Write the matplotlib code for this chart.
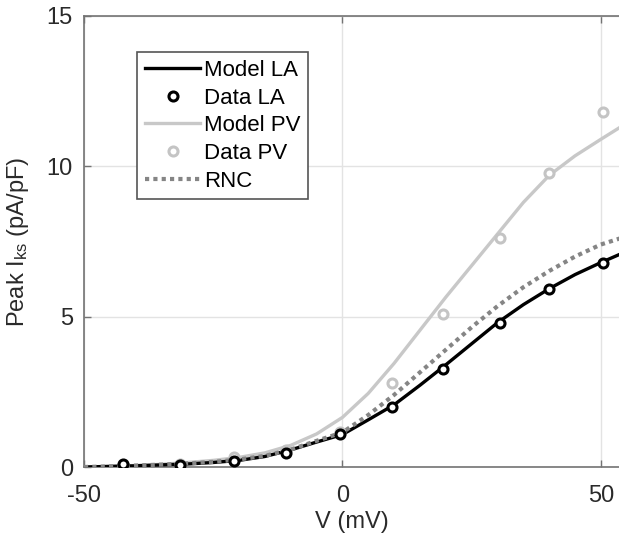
import numpy as np
import matplotlib
matplotlib.use('Agg')
import matplotlib.pyplot as plt

plt.rcParams['font.family'] = ['Liberation Sans', 'DejaVu Sans']
plt.rcParams['mathtext.default'] = 'regular'
plt.rcParams['axes.unicode_minus'] = False

# model curves, every 5 mV
v_model = [-50, -45, -40, -35, -30, -25, -20, -15, -10, -5, 0, 5, 10, 15, 20,
           25, 30, 35, 40, 45, 50, 54]
model_la = [0.0, 0.02, 0.04, 0.07, 0.1, 0.15, 0.22, 0.35, 0.57, 0.83, 1.08,
            1.57, 2.07, 2.72, 3.4, 4.1, 4.8, 5.4, 5.93, 6.4, 6.8, 7.1]
model_pv = [0.0, 0.02, 0.05, 0.09, 0.15, 0.22, 0.32, 0.47, 0.72, 1.1, 1.65,
            2.45, 3.45, 4.55, 5.65, 6.7, 7.75, 8.8, 9.7, 10.35, 10.9, 11.33]
model_rnc = [0.0, 0.02, 0.05, 0.08, 0.12, 0.17, 0.25, 0.37, 0.58, 0.87, 1.15,
             1.73, 2.4, 3.15, 3.9, 4.65, 5.35, 5.98, 6.52, 7.0, 7.4, 7.62]

# measured points
v_data = [-42.5, -31.5, -21, -11, -0.5, 9.5, 19.5, 30.5, 40, 50.5]
data_la = [0.1, 0.05, 0.2, 0.45, 1.1, 2.0, 3.27, 4.8, 5.93, 6.8]
data_pv = [0.05, 0.1, 0.33, 0.55, 1.17, 2.8, 5.1, 7.63, 9.77, 11.82]

fig = plt.figure(figsize=(6.19, 5.35), dpi=100)
ax = fig.add_axes([84 / 619, 1 - 467 / 535, (619 - 84) / 619, 451 / 535])

ax.plot(v_model, model_la, color='black', lw=2.4, label='Model LA', zorder=4)
ax.plot(v_data, data_la, 'o', mfc='white', mec='black', mew=2.2, ms=6.5,
        ls='none', label='Data LA', zorder=5)
ax.plot(v_model, model_pv, color='#c8c8c8', lw=2.4, label='Model PV', zorder=3)
ax.plot(v_data, data_pv, 'o', mfc='white', mec='#c4c4c4', mew=2.2, ms=6.5,
        ls='none', label='Data PV', zorder=4)
ax.plot(v_model, model_rnc, color='#858585', lw=3, ls=(0, (1, 1)),
        label='RNC', zorder=4)

ax.set_xlim(-50, 53.5)
ax.set_ylim(0, 15)
ax.set_xticks([-50, 0, 50])
ax.set_yticks([0, 5, 10, 15])
ax.grid(True, color='#e3e3e3', lw=1)
ax.set_axisbelow(True)

for side in ['left', 'bottom', 'top']:
    ax.spines[side].set_color('#737373')
    ax.spines[side].set_linewidth(1.2)
ax.spines['right'].set_visible(False)
ax.tick_params(direction='in', length=5, width=1, color='#737373',
               labelsize=17, labelcolor='#2a2a2a', top=True)
ax.tick_params(axis='x', pad=13)
ax.tick_params(axis='y', pad=8)

ax.set_xlabel('V (mV)', fontsize=17, color='#2a2a2a', labelpad=3)
ax.set_ylabel('Peak I$_{ks}$ (pA/pF)', fontsize=17, color='#2a2a2a', labelpad=11)

leg = ax.legend(loc='upper left', bbox_to_anchor=(0.099, 0.92), borderaxespad=0,
                fontsize=16, handlelength=2.5, handletextpad=0.15,
                labelspacing=0.3, borderpad=0.35, fancybox=False, framealpha=1)
leg.get_frame().set_edgecolor('#555555')
leg.get_frame().set_linewidth(1.2)

fig.savefig('out.png', dpi=100)
